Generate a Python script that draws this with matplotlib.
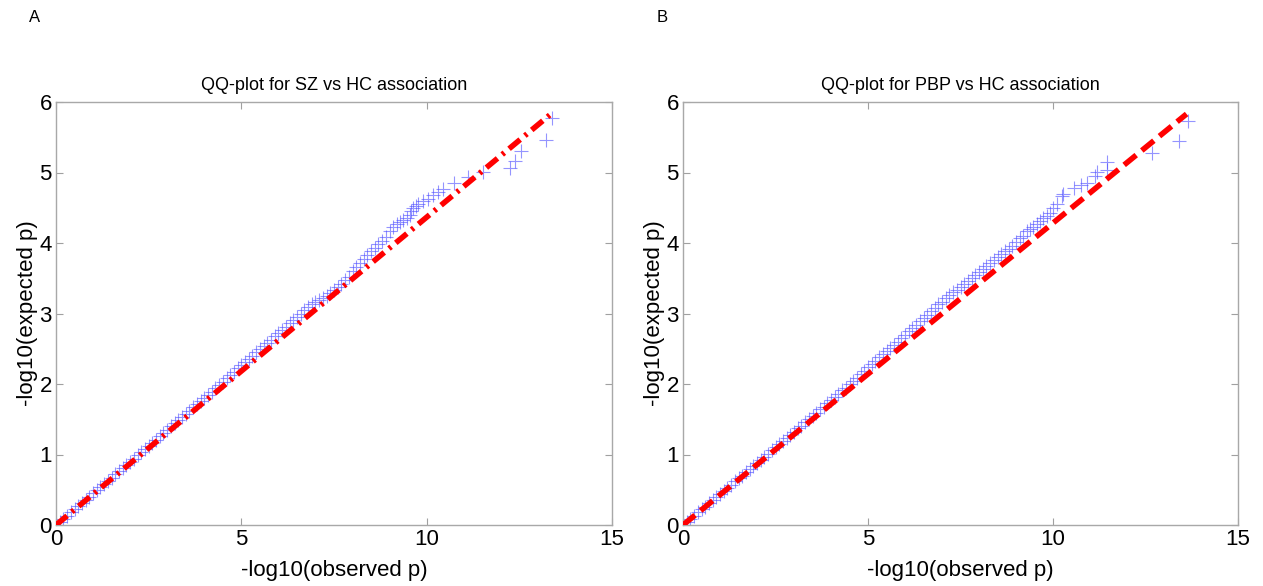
"""QQ-plots for SZ vs HC and PBP vs HC association (panels A and B)."""

import matplotlib
matplotlib.use("Agg")
import matplotlib.pyplot as plt

plt.rcParams["font.family"] = ["Liberation Sans", "DejaVu Sans"]

# ---- panel A: SZ vs HC ----
a_obs = [
    0.0, 0.1, 0.2, 0.3, 0.4, 0.5, 0.6, 0.7, 0.8, 0.9,
    1.0, 1.1, 1.2, 1.3, 1.4, 1.5, 1.6, 1.7, 1.8, 1.9,
    2.0, 2.1, 2.2, 2.3, 2.4, 2.5, 2.6, 2.7, 2.8, 2.9,
    3.0, 3.1, 3.2, 3.3, 3.4, 3.5, 3.6, 3.7, 3.8, 3.9,
    4.0, 4.1, 4.2, 4.3, 4.4, 4.5, 4.6, 4.7, 4.8, 4.9,
    5.0, 5.1, 5.2, 5.3, 5.4, 5.5, 5.6, 5.7, 5.8, 5.9,
    6.0, 6.1, 6.2, 6.3, 6.4, 6.5, 6.6, 6.7, 6.8, 6.9,
    7.0, 7.1, 7.2, 7.3, 7.4, 7.5, 7.6, 7.7, 7.8, 7.9,
    8.0, 8.1, 8.2, 8.3, 8.4, 8.5, 8.6, 8.7, 8.8, 8.9,
    9.0, 9.1, 9.2, 9.28, 9.36, 9.46, 9.54, 9.59, 9.62, 9.70,
    9.77, 9.91, 10.04, 10.18, 10.31, 10.45, 10.74, 11.12, 11.53, 12.25,
    12.38, 12.54, 13.21, 13.37,
]
a_exp = [
    0.00, 0.04, 0.09, 0.13, 0.18, 0.22, 0.27, 0.31, 0.36, 0.40,
    0.45, 0.49, 0.54, 0.58, 0.63, 0.67, 0.72, 0.76, 0.81, 0.85,
    0.90, 0.94, 0.99, 1.03, 1.08, 1.12, 1.17, 1.21, 1.26, 1.31,
    1.35, 1.40, 1.44, 1.49, 1.53, 1.58, 1.62, 1.67, 1.71, 1.76,
    1.80, 1.85, 1.89, 1.94, 1.99, 2.03, 2.08, 2.13, 2.17, 2.22,
    2.27, 2.31, 2.36, 2.40, 2.45, 2.49, 2.54, 2.58, 2.63, 2.68,
    2.72, 2.77, 2.81, 2.86, 2.91, 2.95, 3.00, 3.05, 3.09, 3.13,
    3.16, 3.19, 3.22, 3.25, 3.29, 3.33, 3.37, 3.42, 3.47, 3.52,
    3.60, 3.66, 3.72, 3.77, 3.83, 3.88, 3.93, 3.98, 4.03, 4.09,
    4.17, 4.22, 4.27, 4.30, 4.33, 4.36, 4.40, 4.45, 4.50, 4.53,
    4.55, 4.59, 4.63, 4.68, 4.73, 4.77, 4.85, 4.93, 5.01, 5.07,
    5.17, 5.30, 5.46, 5.77,
]
a_line_x = [0.0, 13.33]
a_line_y = [0.0, 5.82]

# ---- panel B: PBP vs HC ----
b_obs = [
    0.0, 0.1, 0.2, 0.3, 0.4, 0.5, 0.6, 0.7, 0.8, 0.9,
    1.0, 1.1, 1.2, 1.3, 1.4, 1.5, 1.6, 1.7, 1.8, 1.9,
    2.0, 2.1, 2.2, 2.3, 2.4, 2.5, 2.6, 2.7, 2.8, 2.9,
    3.0, 3.1, 3.2, 3.3, 3.4, 3.5, 3.6, 3.7, 3.8, 3.9,
    4.0, 4.1, 4.2, 4.3, 4.4, 4.5, 4.6, 4.7, 4.8, 4.9,
    5.0, 5.1, 5.2, 5.3, 5.4, 5.5, 5.6, 5.7, 5.8, 5.9,
    6.0, 6.1, 6.2, 6.3, 6.4, 6.5, 6.6, 6.7, 6.8, 6.9,
    7.0, 7.1, 7.2, 7.3, 7.4, 7.5, 7.6, 7.7, 7.8, 7.9,
    8.0, 8.1, 8.2, 8.3, 8.4, 8.5, 8.6, 8.7, 8.8, 8.9,
    9.0, 9.1, 9.2, 9.29, 9.38, 9.47, 9.56, 9.65, 9.74, 9.83,
    9.92, 10.01, 10.10, 10.23, 10.28, 10.57, 10.75, 10.93, 11.14, 11.20,
    11.45, 11.47, 12.67, 13.41, 13.64,
]
b_exp = [
    0.00, 0.04, 0.09, 0.13, 0.18, 0.22, 0.26, 0.31, 0.35, 0.40,
    0.44, 0.48, 0.53, 0.57, 0.62, 0.66, 0.70, 0.75, 0.79, 0.84,
    0.88, 0.92, 0.97, 1.01, 1.06, 1.10, 1.15, 1.19, 1.23, 1.28,
    1.32, 1.37, 1.41, 1.46, 1.50, 1.55, 1.59, 1.64, 1.68, 1.73,
    1.77, 1.82, 1.86, 1.91, 1.95, 2.00, 2.04, 2.09, 2.14, 2.19,
    2.24, 2.28, 2.33, 2.38, 2.42, 2.47, 2.51, 2.56, 2.60, 2.65,
    2.70, 2.75, 2.79, 2.84, 2.89, 2.93, 2.98, 3.03, 3.08, 3.13,
    3.17, 3.22, 3.26, 3.30, 3.34, 3.38, 3.42, 3.46, 3.50, 3.55,
    3.59, 3.63, 3.67, 3.72, 3.76, 3.80, 3.84, 3.88, 3.92, 3.96,
    4.02, 4.07, 4.10, 4.17, 4.20, 4.23, 4.27, 4.31, 4.35, 4.39,
    4.43, 4.49, 4.55, 4.66, 4.70, 4.78, 4.82, 4.85, 4.95, 5.01,
    5.04, 5.15, 5.27, 5.45, 5.73,
]
b_line_x = [0.0, 13.61]
b_line_y = [0.0, 5.83]

x_ticks = [0, 5, 10, 15]
y_ticks = [0, 1, 2, 3, 4, 5, 6]

panels = [
    ("A", "QQ-plot for SZ vs HC association", a_obs, a_exp, a_line_x, a_line_y, (2.6, 1.1, 0.5, 1.1)),
    ("B", "QQ-plot for PBP vs HC association", b_obs, b_exp, b_line_x, b_line_y, (2.8, 1.3)),
]

W, H = 1263, 586
fig = plt.figure(figsize=(W / 100, H / 100), dpi=100)
axes_px = [(56, 612), (683, 1238)]
top_px, bottom_px = 102, 525

for (letter, title, xs, ys, lx, ly, dashes), (x0, x1) in zip(panels, axes_px):
    ax = fig.add_axes([x0 / W, 1 - bottom_px / H, (x1 - x0) / W, (bottom_px - top_px) / H])
    ax.plot(xs, ys, linestyle="none", marker="+", markersize=9.5,
            markeredgewidth=0.8, color=(0.3, 0.3, 1.0), alpha=0.6, zorder=2)
    ax.plot(lx, ly, color="red", linewidth=4, dashes=dashes,
            dash_capstyle="butt", zorder=3)
    ax.set_xlim(0, 15)
    ax.set_ylim(0, 6)
    ax.set_xticks(x_ticks)
    ax.set_yticks(y_ticks)
    ax.tick_params(direction="in", length=5, width=0.8, color="#a0a0a0",
                   top=True, right=True, labelsize=16, pad=3)
    for sp in ax.spines.values():
        sp.set_color("#a8a8a8")
        sp.set_linewidth(1.0)
    ax.set_xlabel("-log10(observed p)", fontsize=16, labelpad=7)
    ax.set_ylabel("-log10(expected p)", fontsize=16, labelpad=1)
    ax.set_title(title, fontsize=13, pad=9)
    fig.text((x0 - 21) / W, 1 - 18 / H, letter, fontsize=12, ha="center", va="center")

fig.savefig("out.png", dpi=100)
